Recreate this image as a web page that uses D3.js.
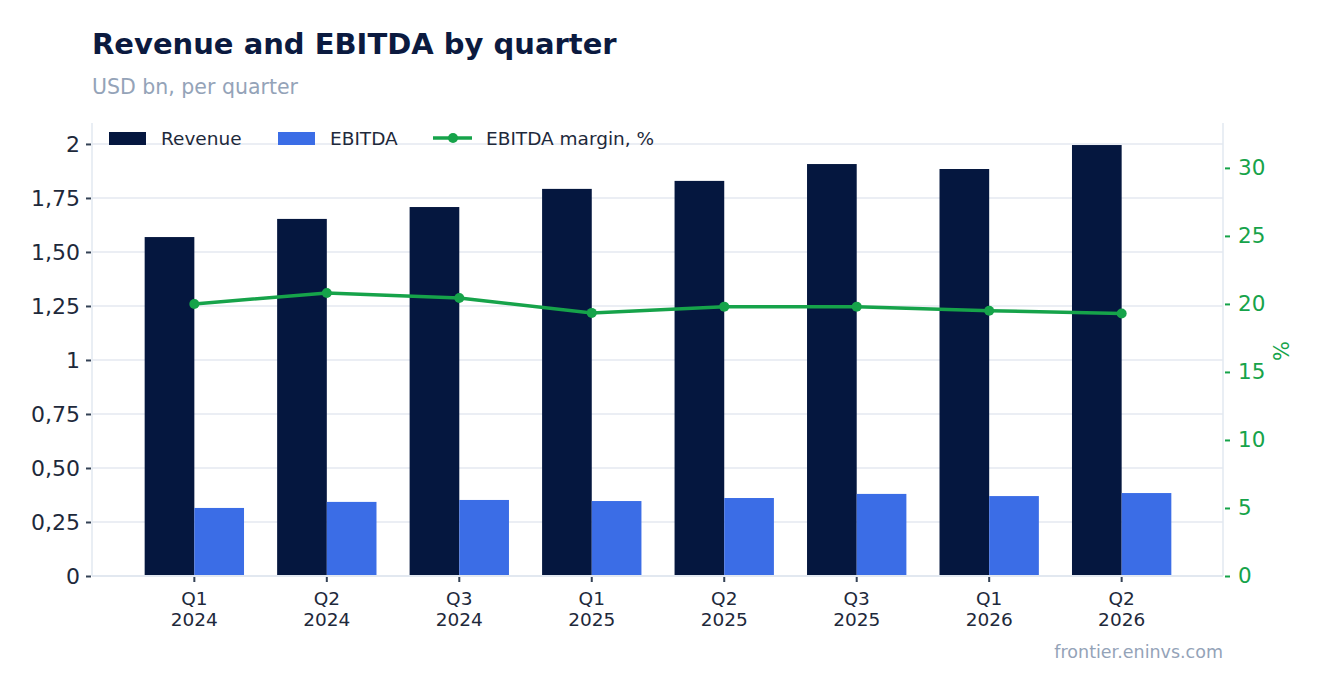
<!DOCTYPE html>
<html>
<head>
<meta charset="utf-8">
<script src="https://cdn.jsdelivr.net/npm/d3@7"></script>
<style>
body { margin: 0; background: #fff; font-family: 'DejaVu Sans', sans-serif; }
</style>
</head>
<body>
<div id="chart"></div>
<script>
var quarters = ['Q1 2024', 'Q2 2024', 'Q3 2024', 'Q1 2025', 'Q2 2025', 'Q3 2025', 'Q1 2026', 'Q2 2026']
var revenue = [1.569, 1.653, 1.708, 1.792, 1.829, 1.907, 1.884, 1.995]
var ebitda = [0.315, 0.343, 0.352, 0.347, 0.361, 0.380, 0.370, 0.384]
var margin = [20.0, 20.8, 20.44, 19.34, 19.8, 19.8, 19.5, 19.3]
var leftTicks = [0, 0.25, 0.5, 0.75, 1, 1.25, 1.5, 1.75, 2]
var leftTickLabels = ['0', '0,25', '0,50', '0,75', '1', '1,25', '1,50', '1,75', '2']
var rightTicks = [0, 5, 10, 15, 20, 25, 30]

var width = 1323, height = 693
var plotLeft = 92, plotRight = 1223, plotTop = 123, plotBottom = 576

var svg = d3.select('#chart').append('svg')
	.attr('width', width)
	.attr('height', height)

var x = d3.scaleBand()
	.domain(quarters)
	.range([plotLeft + 1, plotRight])
	.paddingInner(0.25)
	.paddingOuter(0.39)

var y = d3.scaleLinear().domain([0, 2.097]).range([plotBottom, plotTop])
var y2 = d3.scaleLinear().domain([0, 33.3]).range([plotBottom, plotTop])

// title
svg.append('text').attr('x', 92).attr('y', 54)
	.attr('font-size', 29).attr('font-weight', 'bold').attr('fill', '#0b1a3f')
	.text('Revenue and EBITDA by quarter')
svg.append('text').attr('x', 92).attr('y', 94)
	.attr('font-size', 20.5).attr('fill', '#94a3b8')
	.text('USD bn, per quarter')

// grid
svg.append('g').selectAll('line')
	.data(leftTicks.slice(1))
	.enter().append('line')
	.attr('x1', plotLeft).attr('x2', plotRight)
	.attr('y1', function(d) { return y(d) })
	.attr('y2', function(d) { return y(d) })
	.attr('stroke', '#e5e9f0').attr('stroke-width', 1.5)

// frame lines
svg.append('line').attr('x1', plotLeft).attr('x2', plotLeft).attr('y1', plotTop).attr('y2', plotBottom)
	.attr('stroke', '#e2e8f0').attr('stroke-width', 1.5)
svg.append('line').attr('x1', plotRight).attr('x2', plotRight).attr('y1', plotTop).attr('y2', plotBottom)
	.attr('stroke', '#e2e8f0').attr('stroke-width', 1.5)

// bars
var half = x.bandwidth() / 2
svg.append('g').selectAll('rect')
	.data(revenue)
	.enter().append('rect')
	.attr('x', function(d, i) { return x(quarters[i]) })
	.attr('width', half)
	.attr('y', function(d) { return y(d) })
	.attr('height', function(d) { return y(0) - y(d) })
	.attr('fill', '#05173f')

svg.append('g').selectAll('rect')
	.data(ebitda)
	.enter().append('rect')
	.attr('x', function(d, i) { return x(quarters[i]) + half })
	.attr('width', half)
	.attr('y', function(d) { return y(d) })
	.attr('height', function(d) { return y(0) - y(d) })
	.attr('fill', '#3b6de6')

// bottom axis line
svg.append('line').attr('x1', plotLeft).attr('x2', plotRight).attr('y1', plotBottom).attr('y2', plotBottom)
	.attr('stroke', '#e2e8f0').attr('stroke-width', 2)

// margin line
var line = d3.line()
	.x(function(d, i) { return x(quarters[i]) + half })
	.y(function(d) { return y2(d) })
svg.append('path').datum(margin)
	.attr('d', line)
	.attr('fill', 'none')
	.attr('stroke', '#16a34a')
	.attr('stroke-width', 3.5)
svg.append('g').selectAll('circle')
	.data(margin)
	.enter().append('circle')
	.attr('cx', function(d, i) { return x(quarters[i]) + half })
	.attr('cy', function(d) { return y2(d) })
	.attr('r', 5)
	.attr('fill', '#16a34a')

// left axis
var leftAxis = svg.append('g')
	.attr('transform', 'translate(' + plotLeft + ',0)')
	.call(d3.axisLeft(y).tickValues(leftTicks).tickSize(5).tickPadding(7)
		.tickFormat(function(d, i) { return leftTickLabels[i] }))
leftAxis.select('.domain').remove()
leftAxis.selectAll('line').attr('stroke', '#334155').attr('stroke-width', 2).attr('transform', 'translate(-1,0)')
leftAxis.selectAll('text').attr('font-size', 22).attr('fill', '#1e293b').attr('font-family', 'DejaVu Sans')

// right axis
var rightAxis = svg.append('g')
	.attr('transform', 'translate(' + (plotRight + 2) + ',0)')
	.call(d3.axisRight(y2).tickValues(rightTicks).tickSize(5).tickPadding(8))
rightAxis.select('.domain').remove()
rightAxis.selectAll('line').attr('stroke', '#16a34a').attr('stroke-width', 2)
rightAxis.selectAll('text').attr('font-size', 21.5).attr('fill', '#16a34a').attr('font-family', 'DejaVu Sans')

svg.append('text')
	.attr('transform', 'translate(1289,351) rotate(-90)')
	.attr('text-anchor', 'middle')
	.attr('font-size', 21).attr('fill', '#16a34a')
	.text('%')

// x axis
var xAxis = svg.append('g')
	.attr('transform', 'translate(0,' + (plotBottom + 1) + ')')
	.call(d3.axisBottom(x).tickSize(5).tickFormat(''))
xAxis.select('.domain').remove()
xAxis.selectAll('line').attr('stroke', '#334155').attr('stroke-width', 2)
xAxis.selectAll('.tick').each(function(d) {
	var parts = d.split(' ')
	var t = d3.select(this).append('text')
		.attr('text-anchor', 'middle')
		.attr('font-size', 18.5).attr('fill', '#1e293b')
		.attr('font-family', 'DejaVu Sans')
	t.append('tspan').attr('x', 0).attr('y', 28).text(parts[0])
	t.append('tspan').attr('x', 0).attr('y', 49).text(parts[1])
})

// legend
var legend = svg.append('g')
legend.append('rect').attr('x', 109).attr('y', 132).attr('width', 37).attr('height', 13).attr('fill', '#05173f')
legend.append('text').attr('x', 161).attr('y', 145).attr('font-size', 18.5).attr('fill', '#1e293b').text('Revenue')
legend.append('rect').attr('x', 278).attr('y', 132).attr('width', 37).attr('height', 13).attr('fill', '#3b6de6')
legend.append('text').attr('x', 330).attr('y', 145).attr('font-size', 18.5).attr('fill', '#1e293b').text('EBITDA')
legend.append('line').attr('x1', 433).attr('x2', 472).attr('y1', 138).attr('y2', 138).attr('stroke', '#16a34a').attr('stroke-width', 3.5)
legend.append('circle').attr('cx', 453).attr('cy', 138).attr('r', 5).attr('fill', '#16a34a')
legend.append('text').attr('x', 486).attr('y', 145).attr('font-size', 18.5).attr('fill', '#1e293b').text('EBITDA margin, %')

// source
svg.append('text').attr('x', plotRight).attr('y', 658)
	.attr('text-anchor', 'end').attr('font-size', 17.5).attr('fill', '#94a3b8')
	.text('frontier.eninvs.com')
</script>
</body>
</html>
